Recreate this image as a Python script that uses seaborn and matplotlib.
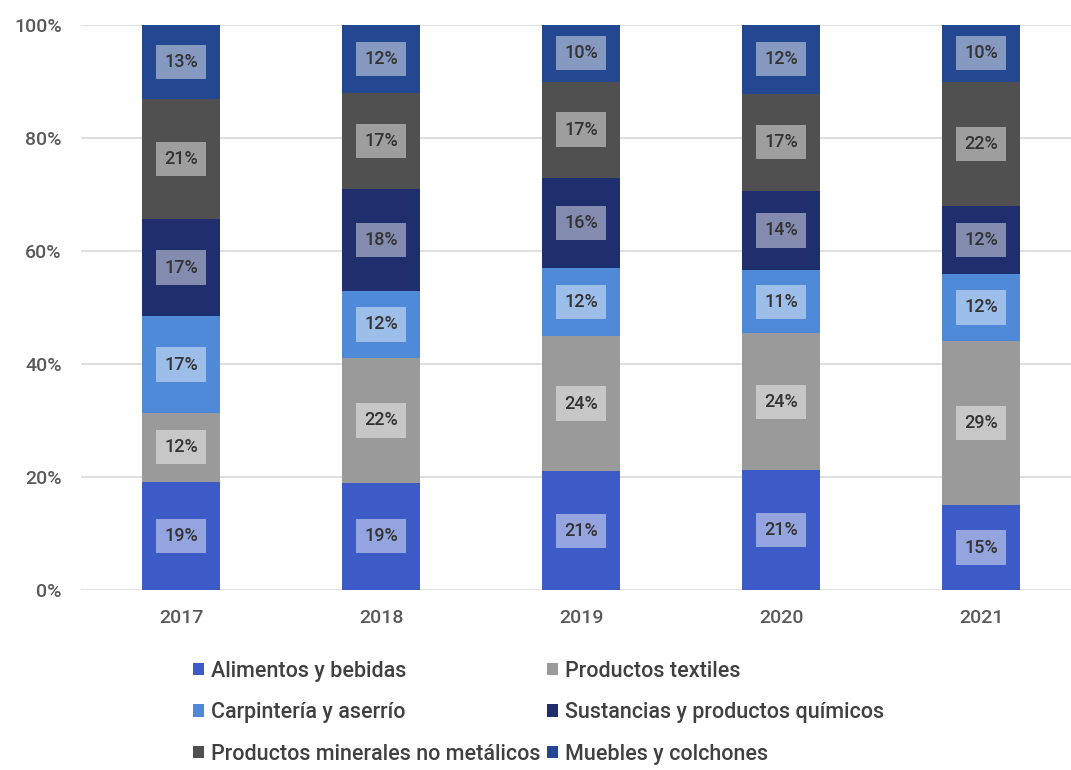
import numpy as np
import pandas as pd
import matplotlib
matplotlib.use("Agg")
import matplotlib.pyplot as plt
import seaborn as sns
from matplotlib.ticker import PercentFormatter
from matplotlib.patches import Patch

# datos (porcentajes mostrados en las etiquetas)
years = ["2017", "2018", "2019", "2020", "2021"]
categories = ["Alimentos y bebidas", "Productos textiles", "Carpintería y aserrío",
              "Sustancias y productos químicos", "Productos minerales no metálicos",
              "Muebles y colchones"]
alimentos = [19, 19, 21, 21, 15]
textiles = [12, 22, 24, 24, 29]
carpinteria = [17, 12, 12, 11, 12]
sustancias = [17, 18, 16, 14, 12]
minerales = [21, 17, 17, 17, 22]
muebles = [13, 12, 10, 12, 10]
colors = ["#3D5BC6", "#9A9A9A", "#4E8AD8", "#1F2E6C", "#505050", "#234790"]

series = [alimentos, textiles, carpinteria, sustancias, minerales, muebles]
values = np.array(series, dtype=float)
shares = values / values.sum(axis=0) * 100

sns.set_style("white")
plt.rcParams["font.family"] = ["Roboto", "DejaVu Sans"]

fig = plt.figure(figsize=(10.71, 7.7), dpi=100)
ax = fig.add_axes([0.0757, 0.2338, 0.9243, 0.7337])

bottom = np.zeros(len(years))
for cat, share, val, col in zip(categories, shares, values, colors):
    df = pd.DataFrame({"year": years, "share": share})
    sns.barplot(data=df, x="year", y="share", color=col, width=0.39,
                bottom=bottom, saturation=1, linewidth=0, ax=ax, zorder=3)
    for i in range(len(years)):
        ax.text(i, bottom[i] + share[i] / 2, f"{int(val[i])}%", ha="center", va="center",
                fontsize=13, fontweight="medium", color="#333333", zorder=5,
                bbox=dict(boxstyle="square,pad=0.45", fc="white", ec="none", alpha=0.45))
    bottom = bottom + share

ax.set_ylim(0, 100)
ax.set_xlim(-0.5, 4.45)
ax.yaxis.set_major_formatter(PercentFormatter(decimals=0))
ax.set_yticks(range(0, 101, 20))
ax.grid(axis="y", color="#D9D9D9", linewidth=1.2, zorder=0)
ax.set_axisbelow(True)
sns.despine(ax=ax, left=True, bottom=True)
ax.tick_params(axis="both", length=0, labelsize=14, colors="#595959", pad=14)
ax.tick_params(axis="x", pad=14)
for t in ax.get_xticklabels() + ax.get_yticklabels():
    t.set_fontweight("medium")
ax.set_xlabel("")
ax.set_ylabel("")

# leyenda en filas: reordenar para ncol=2
order = [0, 2, 4, 1, 3, 5]
handles = [Patch(facecolor=colors[k], edgecolor="none") for k in order]
labels = [categories[k] for k in order]
fig.legend(handles, labels, ncol=2, loc="upper left", bbox_to_anchor=(0.172, 0.153),
           frameon=False, prop={"size": 15.5, "weight": "medium"}, labelcolor="#404040",
           handlelength=0.5, handleheight=0.5, handletextpad=0.35, columnspacing=0.3,
           labelspacing=0.95, borderaxespad=0)

fig.savefig("out.png", dpi=100)
